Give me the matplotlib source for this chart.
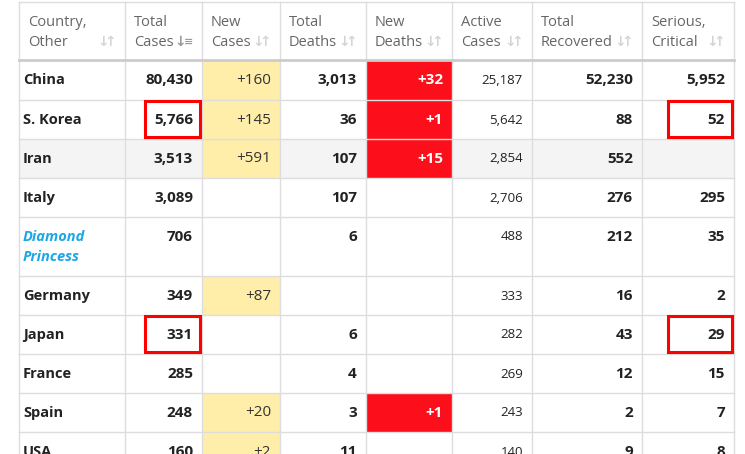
import matplotlib.pyplot as plt
from matplotlib.patches import Rectangle

plt.rcParams['font.family'] = ['Open Sans', 'DejaVu Sans']

# table data
headers = [("Country,", "Other"), ("Total", "Cases"), ("New", "Cases"), ("Total", "Deaths"),
           ("New", "Deaths"), ("Active", "Cases"), ("Total", "Recovered"), ("Serious,", "Critical")]
countries = ["China", "S. Korea", "Iran", "Italy", "Diamond\nPrincess", "Germany",
             "Japan", "France", "Spain", "USA"]
total_cases = ["80,430", "5,766", "3,513", "3,089", "706", "349", "331", "285", "248", "160"]
new_cases = ["+160", "+145", "+591", "", "", "+87", "", "", "+20", "+2"]
total_deaths = ["3,013", "36", "107", "107", "6", "", "6", "4", "3", "11"]
new_deaths = ["+32", "+1", "+15", "", "", "", "", "", "+1", ""]
active_cases = ["25,187", "5,642", "2,854", "2,706", "488", "333", "282", "269", "243", "140"]
total_recovered = ["52,230", "88", "552", "276", "212", "16", "43", "12", "2", "9"]
serious = ["5,952", "52", "", "295", "35", "2", "29", "15", "7", "8"]
# highlighted cells (row, column)
boxed = [(1, 1), (1, 7), (6, 1), (6, 7)]

# layout in pixels
col_edges = [19, 125, 202, 280, 366, 452, 532, 642, 734]
header_top, header_bottom = 2, 60
row_heights = [40, 39, 39, 39, 59, 39, 39, 39, 39, 39]

fig = plt.figure(figsize=(7.45, 4.54), dpi=100)
ax = fig.add_axes([0, 0, 1, 1])
ax.set_xlim(0, 745)
ax.set_ylim(454, 0)
ax.axis('off')

grid = '#dddddd'
columns = [countries, total_cases, new_cases, total_deaths, new_deaths,
           active_cases, total_recovered, serious]

# rows
top = header_bottom
row_tops = []
for i, h in enumerate(row_heights):
    row_tops.append(top)
    if countries[i] == "Iran":
        ax.add_patch(Rectangle((col_edges[0], top), col_edges[-1] - col_edges[0], h,
                               facecolor='#f4f4f4', edgecolor='none', zorder=0))
    for c, col in enumerate(columns):
        x0, x1 = col_edges[c], col_edges[c + 1]
        val = col[i]
        if c == 2 and val:
            ax.add_patch(Rectangle((x0, top), x1 - x0, h, facecolor='#ffeeaa',
                                   edgecolor='none', zorder=1))
        if c == 4 and val:
            ax.add_patch(Rectangle((x0, top), x1 - x0, h, facecolor='#fc0f1a',
                                   edgecolor='none', zorder=1))
        ty = top + 20
        if c == 0:
            if "\n" in val:
                for k, part in enumerate(val.split("\n")):
                    ax.text(x0 + 4, ty + k * 20, part, ha='left', va='center',
                            fontsize=10.5, fontweight='bold', style='italic',
                            color='#1ba7e6', zorder=3)
            else:
                ax.text(x0 + 4, ty, val, ha='left', va='center', fontsize=10.5,
                        fontweight='bold', color='#222222', zorder=3)
        elif c == 2:
            ax.text(x1 - 9, ty, val, ha='right', va='center', fontsize=11,
                    color='#333333', zorder=3)
        elif c == 4:
            ax.text(x1 - 9, ty, val, ha='right', va='center', fontsize=11,
                    fontweight='bold', color='white', zorder=3)
        elif c == 5:
            ax.text(x1 - 9, ty, val, ha='right', va='center', fontsize=9.5,
                    color='#222222', zorder=3)
        else:
            ax.text(x1 - 9, ty, val, ha='right', va='center', fontsize=11,
                    fontweight='bold', color='#222222', zorder=3)
    top += h
    ax.plot([col_edges[0], col_edges[-1]], [top, top], color=grid, lw=1, zorder=2)

# vertical grid lines
for x in col_edges:
    ax.plot([x, x], [header_top, 454], color=grid, lw=1, zorder=2)
ax.plot([col_edges[0], col_edges[-1]], [header_top, header_top], color=grid, lw=1, zorder=2)
ax.plot([col_edges[0], col_edges[-1]], [header_bottom, header_bottom], color='#cccccc',
        lw=2, zorder=2)

# header
for c, (l1, l2) in enumerate(headers):
    x0, x1 = col_edges[c], col_edges[c + 1]
    ax.text(x0 + 9, 22, l1, ha='left', va='center', fontsize=10.5, color='#666666')
    ax.text(x0 + 9, 42, l2, ha='left', va='center', fontsize=10.5, color='#666666')
    # sort icon, drawn as two narrow glyphs
    icolor = '#9a9a9a' if c == 1 else '#d5d5d5'
    second = "≡" if c == 1 else "↑"
    ax.text(x1 - 16, 42, "↓", ha='right', va='center', fontsize=10, fontweight='bold',
            color=icolor, family='DejaVu Sans')
    ax.text(x1 - 9, 42, second, ha='right', va='center', fontsize=10 if c != 1 else 8,
            fontweight='bold', color=icolor, family='DejaVu Sans')

# red highlight boxes
for r, c in boxed:
    x0, x1 = col_edges[c], col_edges[c + 1]
    y0 = row_tops[r]
    w = 55 if c == 1 else 64
    ax.add_patch(Rectangle((x1 - w - 2, y0 + 1), w, row_heights[r] - 3, facecolor='none',
                           edgecolor='#ff0000', lw=2.2, zorder=4))

fig.savefig('out.png', dpi=100)
